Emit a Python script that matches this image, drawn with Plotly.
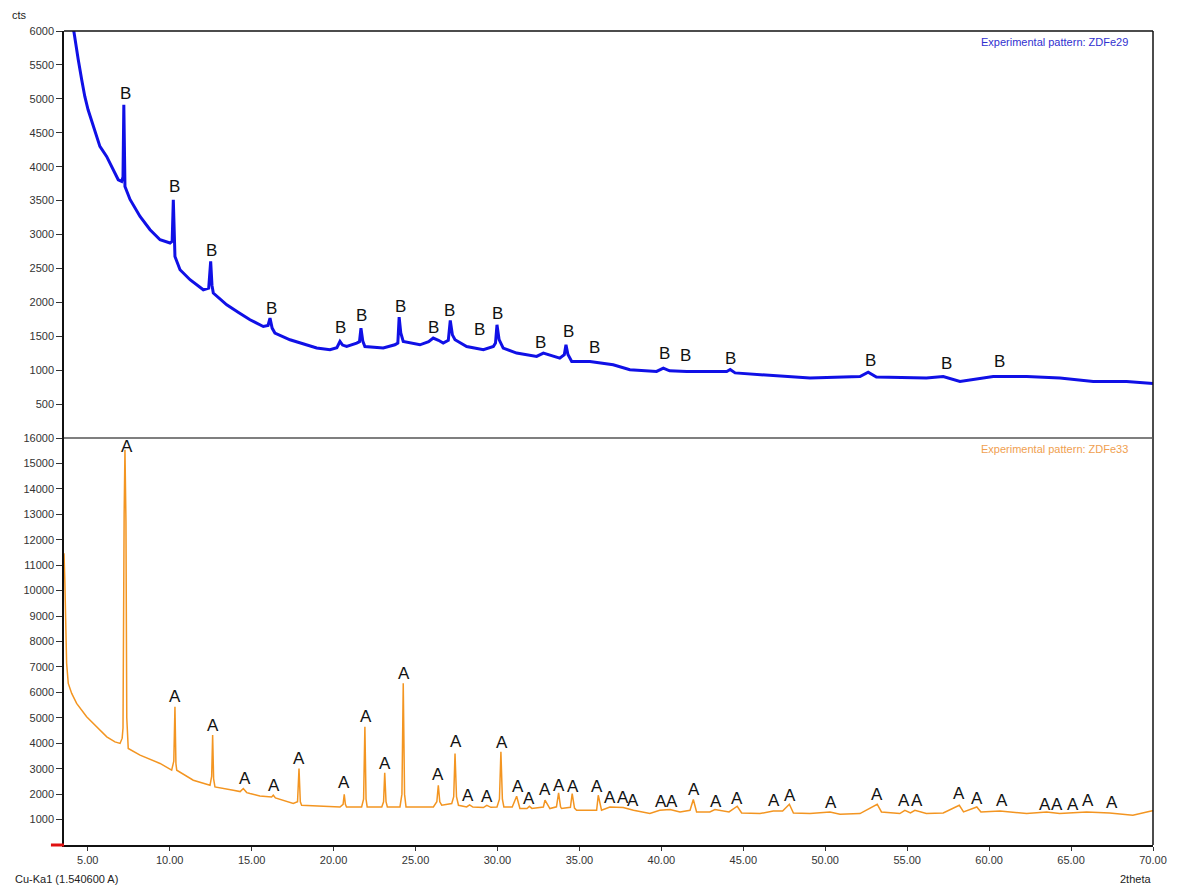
import plotly.graph_objects as go

# ---------------- data: top pattern (ZDFe29, blue) ----------------
top_x = [3.55, 3.9, 4.16, 4.28, 4.42, 4.63, 4.82, 5.02, 5.34, 5.54, 5.74, 6.15, 6.56, 6.86, 7.07,
         7.15, 7.2, 7.24, 7.27, 7.58, 8.19, 8.8, 9.41, 10.02, 10.15, 10.22, 10.28, 10.32, 10.63,
         11.24, 12.05, 12.38, 12.5, 12.58, 12.66, 13.48, 14.2, 14.9, 15.71, 16.0, 16.12, 16.25,
         16.42, 17.34, 18.97, 19.78, 20.2, 20.39, 20.55, 20.8, 21.41, 21.58, 21.67, 21.78, 21.91,
         23.03, 23.74, 23.92, 24.0, 24.1, 24.25, 25.27, 25.8, 26.08, 26.4, 26.69, 27.0, 27.12,
         27.25, 27.41, 28.12, 29.14, 29.75, 29.88, 29.97, 30.1, 30.35, 31.17, 32.39, 32.8, 33.8,
         34.08, 34.18, 34.3, 34.53, 35.64, 37.06, 38.08, 39.71, 40.12, 40.5, 41.55, 43.99, 44.2,
         44.5, 46.02, 49.07, 52.12, 52.62, 53.12, 56.17, 57.2, 58.22, 60.25, 62.29, 64.32, 66.35,
         68.39, 70.0]
top_y = [7000, 6300, 5980, 5773, 5577, 5282, 5035, 4839, 4593, 4446, 4298, 4151, 3955, 3807, 3782,
         3850, 4913, 4400, 3708, 3517, 3266, 3070, 2922, 2874, 2900, 3512, 2950, 2676, 2480,
         2333, 2185, 2210, 2603, 2250, 2137, 1964, 1850, 1743, 1644, 1660, 1768, 1620,
         1547, 1448, 1326, 1301, 1330, 1423, 1370, 1349, 1399, 1420, 1620, 1430, 1349,
         1326, 1374, 1400, 1783, 1550, 1423, 1374, 1420, 1473, 1440, 1399, 1440, 1733,
         1520, 1448, 1349, 1301, 1349, 1400, 1669, 1450, 1326, 1252, 1202, 1252, 1178,
         1230, 1374, 1230, 1128, 1128, 1079, 1006, 981, 1031, 990, 981, 981, 1010,
         960, 932, 883, 907, 971, 898, 883, 907, 833, 907, 907, 883, 833,
         833, 805]

# ---------------- data: bottom pattern (ZDFe33, orange) ----------------
bot_x = [3.55, 3.6, 3.71, 3.81, 4.02, 4.32, 4.93, 5.55, 6.16, 6.66, 6.97, 7.1, 7.15, 7.22, 7.27,
         7.33, 7.38, 7.47, 8.19, 9.41, 10.12, 10.25, 10.32, 10.38, 10.43, 11.44, 12.46, 12.56,
         12.62, 12.68, 12.76, 13.88, 14.3, 14.49, 14.7, 14.9, 15.5, 16.22, 16.32, 16.45, 17.54,
         17.8, 17.89, 17.97, 18.05, 20.39, 20.58, 20.65, 20.72, 20.79, 21.71, 21.83, 21.91,
         21.98, 22.05, 22.94, 23.05, 23.12, 23.2, 23.28, 24.05, 24.17, 24.25, 24.33, 24.42,
         26.09, 26.3, 26.39, 26.48, 26.6, 27.21, 27.33, 27.41, 27.5, 27.62, 28.12, 28.3, 28.5,
         29.14, 29.35, 29.6, 29.97, 30.12, 30.21, 30.3, 30.39, 30.9, 31.17, 31.37, 31.8, 31.95,
         32.1, 32.8, 32.9, 33.2, 33.6, 33.73, 33.85, 33.91, 34.45, 34.56, 34.7, 34.83, 36.05,
         36.15, 36.35, 36.86, 37.67, 38.3, 39.3, 39.9, 40.53, 41.14, 41.75, 41.95, 42.15, 42.96,
         43.27, 44.13, 44.63, 44.9, 46.02, 46.83, 47.4, 47.81, 48.06, 49.07, 50.29, 50.9, 52.12,
         53.17, 53.43, 54.55, 54.86, 55.2, 55.47, 56.17, 57.2, 58.18, 58.44, 59.25, 59.5, 60.66,
         62.29, 63.51, 64.3, 65.95, 67.35, 68.77, 69.89, 70.0]
bot_y = [11472, 10421, 7142, 6354, 5961, 5567, 5039, 4646, 4252, 4055, 3992, 4200, 4600, 13000, 15540,
         12717, 5000, 3795, 3531, 3205, 2941, 3300, 5433, 3200, 2941, 2547, 2350, 2700,
         4319, 2600, 2284, 2154, 2100, 2220, 2060, 2024, 1930, 1890, 1957, 1850, 1630,
         1700, 3008, 1700, 1563, 1496, 1600, 1996, 1600, 1496, 1496, 1800, 4646,
         1800, 1496, 1496, 1700, 2835, 1700, 1496, 1496, 2000, 6354, 2000, 1496,
         1496, 1700, 2350, 1700, 1563, 1630, 1900, 3598, 1900, 1563, 1496, 1580, 1490,
         1470, 1560, 1480, 1496, 1800, 3661, 1800, 1496, 1496, 1917, 1433, 1433, 1520,
         1440, 1496, 1760, 1433, 1500, 2047, 1500, 1433, 1480, 2024, 1450, 1366, 1366,
         1957, 1366, 1496, 1470, 1366, 1236, 1366, 1393, 1300, 1366, 1787, 1300, 1300,
         1393, 1300, 1524, 1260, 1236, 1339, 1339, 1602, 1260, 1236, 1300, 1208, 1236,
         1602, 1300, 1236, 1366, 1260, 1366, 1236, 1260, 1563, 1300, 1496, 1300, 1339,
         1236, 1300, 1236, 1300, 1260, 1169, 1339, 1350]

# ---------------- peak marker labels ----------------
b_label_x = [7.29, 10.32, 12.56, 16.22, 20.43, 21.71, 24.09, 26.07, 27.1, 28.93, 29.99, 32.65,
             34.36, 35.89, 40.22, 41.5, 44.23, 52.77, 57.4, 60.62]
b_label_y = [5085, 3708, 2765, 1905, 1635, 1802, 1939, 1635, 1880, 1595, 1841, 1414,
             1570, 1340, 1252, 1212, 1178, 1143, 1104, 1128]

a_label_x = [7.37, 10.32, 12.66, 14.6, 16.36, 17.89, 20.65, 21.97, 23.13, 24.31, 26.39, 27.45,
             28.22, 29.34, 30.3, 31.25, 31.94, 32.92, 33.77, 34.58, 36.09, 36.86, 37.64, 38.29,
             40.0, 40.63, 41.98, 43.33, 44.63, 46.87, 47.84, 50.33, 53.17, 54.8, 55.57, 58.19,
             59.29, 60.76, 63.41, 64.12, 65.11, 66.01, 67.47]
a_label_y = [15670, 5827, 4713, 2614, 2350, 3402, 2441, 5039, 3205, 6748, 2783, 4055,
             1957, 1890, 4031, 2311, 1827, 2181, 2350, 2311, 2284, 1866, 1866, 1760,
             1693, 1693, 2193, 1693, 1827, 1760, 1957, 1669, 1984, 1732, 1760, 2024,
             1827, 1732, 1590, 1590, 1590, 1732, 1654]

top_ticks = list(range(500, 6001, 500))
bot_ticks = list(range(1000, 16001, 1000))

BLUE = "#1010e6"
ORANGE = "#f39521"
FONT = "Liberation Sans, Arial, sans-serif"

fig = go.Figure()
fig.add_trace(go.Scatter(x=top_x, y=top_y, mode="lines", xaxis="x", yaxis="y",
                         line=dict(color=BLUE, width=3), hoverinfo="skip"))
fig.add_trace(go.Scatter(x=bot_x, y=bot_y, mode="lines", xaxis="x", yaxis="y2",
                         line=dict(color=ORANGE, width=1.5), hoverinfo="skip"))

annotations = []
for x, y in zip(b_label_x, b_label_y):
    annotations.append(dict(x=x, y=y, xref="x", yref="y", text="B", showarrow=False,
                            font=dict(family=FONT, size=17, color="#111"),
                            xanchor="center", yanchor="middle"))
for x, y in zip(a_label_x, a_label_y):
    annotations.append(dict(x=x, y=y, xref="x", yref="y2", text="A", showarrow=False,
                            font=dict(family=FONT, size=17, color="#111"),
                            xanchor="center", yanchor="middle"))

annotations += [
    dict(x=0.979, y=0.987, xref="paper", yref="paper", text="Experimental pattern: ZDFe29",
         showarrow=False, xanchor="right", yanchor="middle",
         font=dict(family=FONT, size=11, color="#3030d0")),
    dict(x=0.979, y=0.486, xref="paper", yref="paper", text="Experimental pattern: ZDFe33",
         showarrow=False, xanchor="right", yanchor="middle",
         font=dict(family=FONT, size=11, color="#f0a050")),
    dict(x=-0.0496, y=1.0197, xref="paper", yref="paper", text="cts", showarrow=False,
         xanchor="left", yanchor="middle", font=dict(family=FONT, size=11, color="#222")),
    dict(x=-0.0468, y=-0.0418, xref="paper", yref="paper", text="Cu-Ka1 (1.540600 A)",
         showarrow=False, xanchor="left", yanchor="middle",
         font=dict(family=FONT, size=11, color="#222")),
    dict(x=1.0, y=-0.0418, xref="paper", yref="paper", text="2theta", showarrow=False,
         xanchor="right", yanchor="middle", font=dict(family=FONT, size=11, color="#222")),
]

shapes = [
    dict(type="line", xref="paper", yref="paper", x0=0, x1=1, y0=1, y1=1,
         line=dict(color="#111", width=1.5)),
    dict(type="line", xref="paper", yref="paper", x0=1, x1=1, y0=0, y1=1,
         line=dict(color="#111", width=1.5)),
    dict(type="line", xref="paper", yref="paper", x0=0, x1=1, y0=0.5, y1=0.5,
         line=dict(color="#555", width=1.5)),
    dict(type="line", xref="paper", yref="paper", x0=-0.012, x1=0, y0=0, y1=0,
         line=dict(color="#e01010", width=3)),
]

axis_font = dict(family=FONT, size=11, color="#333")

fig.update_layout(
    width=1178, height=888,
    margin=dict(l=64, r=25, t=31, b=43),
    paper_bgcolor="white", plot_bgcolor="white",
    showlegend=False,
    xaxis=dict(range=[3.55, 70], anchor="y2", tickmode="linear", tick0=5, dtick=5,
               tickformat=".2f", showline=True, linecolor="#111", linewidth=1.5,
               ticks="outside", ticklen=4, tickcolor="#333", showgrid=False, zeroline=False,
               tickfont=axis_font),
    yaxis=dict(domain=[0.5, 1], range=[0, 6000], tickmode="array", tickvals=top_ticks,
               ticktext=[str(v) for v in top_ticks], showline=True,
               linecolor="#111", linewidth=1.5, ticks="outside", ticklen=6, tickcolor="#333",
               showgrid=False, zeroline=False, tickfont=axis_font),
    yaxis2=dict(domain=[0, 0.5], range=[0, 16000], tickmode="array", tickvals=bot_ticks,
                ticktext=[str(v) for v in bot_ticks], showline=True,
                linecolor="#111", linewidth=1.5, ticks="outside", ticklen=6, tickcolor="#333",
                showgrid=False, zeroline=False, tickfont=axis_font),
    annotations=annotations,
    shapes=shapes,
)

fig.write_html("out.html")
